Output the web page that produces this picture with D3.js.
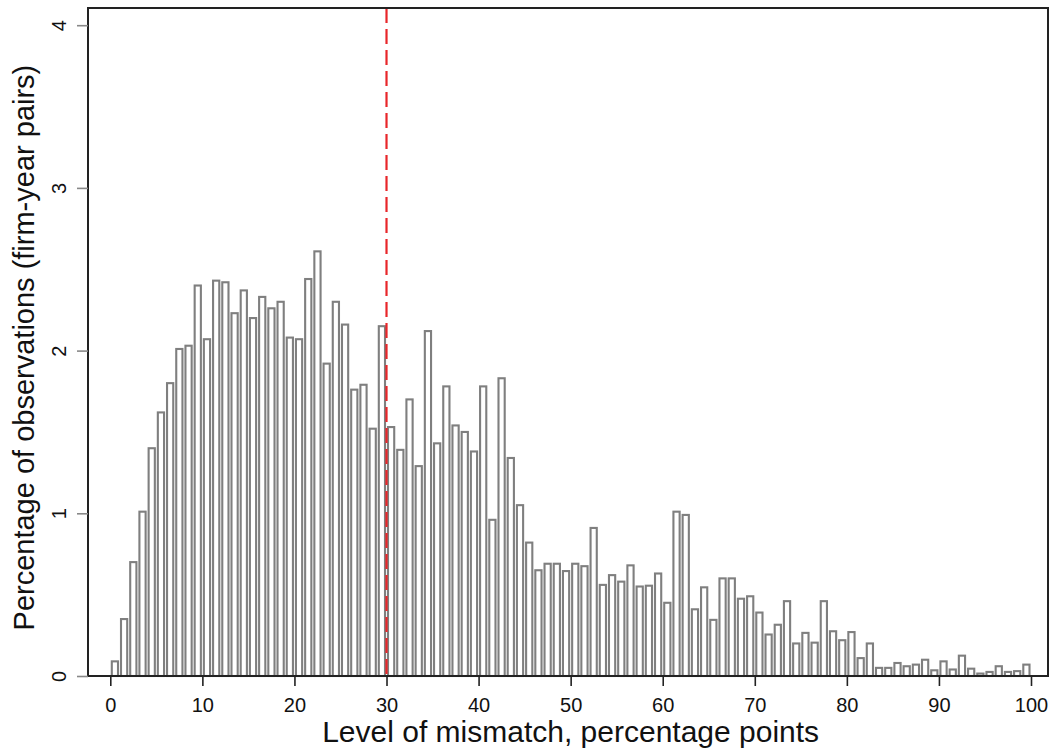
<!DOCTYPE html>
<html>
<head>
<meta charset="utf-8">
<script src="https://cdn.jsdelivr.net/npm/d3@7"></script>
<style>
  html, body { margin: 0; padding: 0; background: #fff; }
  svg { display: block; }
  text { font-family: "Liberation Sans", Arial, Helvetica, sans-serif; fill: #111; }
</style>
</head>
<body>
<svg id="chart" width="1053" height="749"></svg>
<script>
// Histogram: percentage of observations per 1-point bin of mismatch (0-100)
const binStarts = d3.range(0, 100);
const percentages = [
  0.09, 0.35, 0.70, 1.01, 1.40, 1.62, 1.80, 2.01, 2.03, 2.40,
  2.07, 2.43, 2.42, 2.23, 2.37, 2.20, 2.33, 2.26, 2.30, 2.08,
  2.07, 2.44, 2.61, 1.92, 2.30, 2.16, 1.76, 1.79, 1.52, 2.15,
  1.53, 1.39, 1.70, 1.29, 2.12, 1.43, 1.78, 1.54, 1.50, 1.38,
  1.78, 0.96, 1.83, 1.34, 1.05, 0.82, 0.65, 0.69, 0.69, 0.645,
  0.69, 0.675, 0.91, 0.56, 0.62, 0.58, 0.68, 0.55, 0.555, 0.63,
  0.45, 1.01, 0.99, 0.41, 0.545, 0.345, 0.60, 0.60, 0.475, 0.49,
  0.39, 0.255, 0.315, 0.46, 0.20, 0.265, 0.205, 0.46, 0.275, 0.22,
  0.27, 0.11, 0.20, 0.05, 0.05, 0.08, 0.06, 0.07, 0.10, 0.035,
  0.09, 0.04, 0.125, 0.045, 0.015, 0.025, 0.06, 0.025, 0.03, 0.07
];
const xTicks = [0, 10, 20, 30, 40, 50, 60, 70, 80, 90, 100];
const yTicks = [0, 1, 2, 3, 4];
const threshold = [30];
const xTitle = "Level of mismatch, percentage points";
const yTitle = "Percentage of observations (firm-year pairs)";

const svg = d3.select("#chart");
const frame = { left: 88, right: 1048, top: 8, bottom: 676 };

const x = d3.scaleLinear().domain([0, 100]).range([110.3, 1031]);
const y = d3.scaleLinear().domain([0, 4]).range([676, 25.2]);

const binW = x(1) - x(0);
const data = binStarts.map((b, i) => ({ start: b, value: percentages[i] }));

// bars
svg.append("g").selectAll("rect").data(data).join("rect")
  .attr("x", d => x(d.start) + 1.5)
  .attr("width", binW - 3.0)
  .attr("y", d => y(d.value))
  .attr("height", d => Math.max(0, y(0) - y(d.value)))
  .attr("fill", "#fff")
  .attr("stroke", "#7f7f7f")
  .attr("stroke-width", 2.1);

// threshold line
svg.append("g").selectAll("line").data(threshold).join("line")
  .attr("x1", d => x(d)).attr("x2", d => x(d))
  .attr("y1", frame.top).attr("y2", frame.bottom)
  .attr("stroke", "#e8262a")
  .attr("stroke-width", 2.2)
  .attr("stroke-dasharray", "15,6");

// frame
svg.append("rect")
  .attr("x", frame.left).attr("y", frame.top)
  .attr("width", frame.right - frame.left)
  .attr("height", frame.bottom - frame.top)
  .attr("fill", "none")
  .attr("stroke", "#222")
  .attr("stroke-width", 2);

// x axis
const xAxis = d3.axisBottom(x).tickValues(xTicks).tickFormat(d3.format("d"))
  .tickSize(10).tickPadding(12).tickSizeOuter(0);
const gx = svg.append("g").attr("transform", `translate(0,${frame.bottom})`).call(xAxis);
gx.select(".domain").remove();
gx.selectAll(".tick line").attr("stroke", "#222").attr("stroke-width", 1.6);
gx.selectAll(".tick text")
  .attr("font-size", 20)
  .attr("font-family", "Liberation Sans, Arial, sans-serif")
  .attr("fill", "#111")
  .attr("dy", "0.71em");

// y axis
const yAxis = d3.axisLeft(y).tickValues(yTicks).tickFormat(d3.format("d"))
  .tickSize(11).tickPadding(0).tickSizeOuter(0);
const gy = svg.append("g").attr("transform", `translate(${frame.left},0)`).call(yAxis);
gy.select(".domain").remove();
gy.selectAll(".tick line").attr("stroke", "#888").attr("stroke-width", 1.6);
gy.selectAll(".tick text")
  .attr("font-size", 20)
  .attr("font-family", "Liberation Sans, Arial, sans-serif")
  .attr("fill", "#111")
  .attr("x", 0).attr("dy", 0)
  .attr("text-anchor", "middle")
  .attr("transform", "translate(-22,0) rotate(-90)");

// titles
svg.append("text")
  .attr("x", (x(0) + x(100)) / 2)
  .attr("y", 742)
  .attr("text-anchor", "middle")
  .attr("font-size", 30)
  .text(xTitle);

svg.append("text")
  .attr("transform", `translate(34,${(y(0) + y(4)) / 2 - 3}) rotate(-90)`)
  .attr("text-anchor", "middle")
  .attr("font-size", 29)
  .text(yTitle);
</script>
</body>
</html>
